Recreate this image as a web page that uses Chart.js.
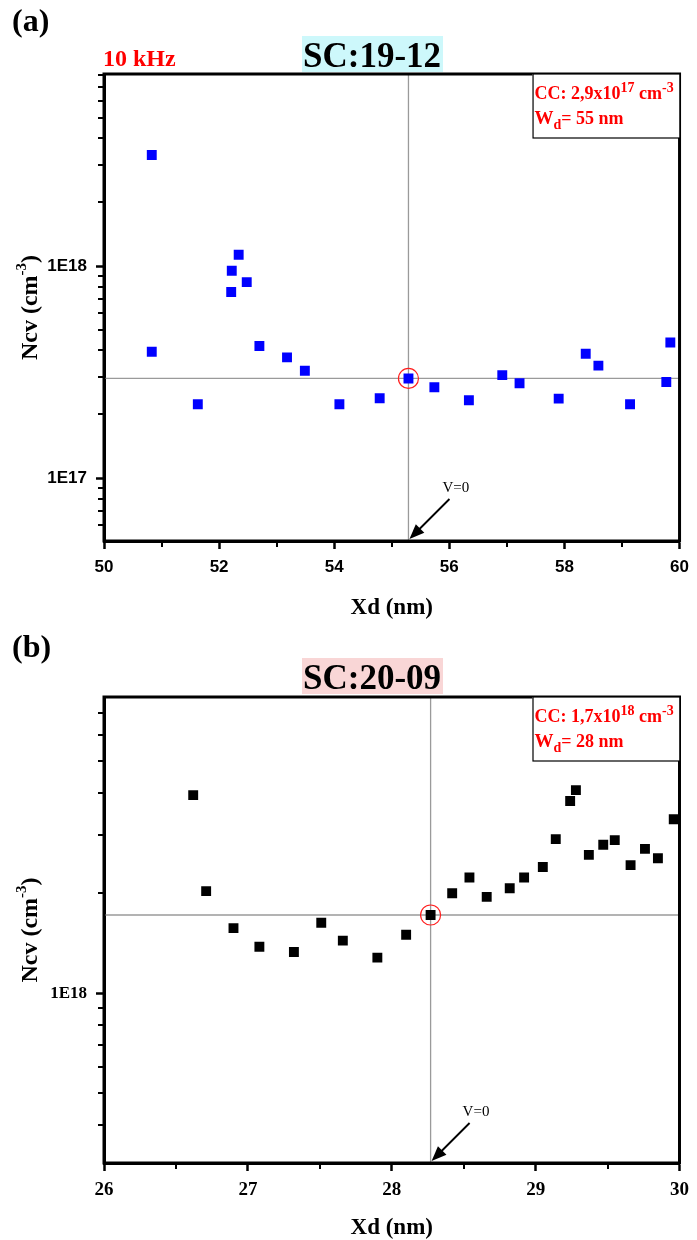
<!DOCTYPE html>
<html>
<head>
<meta charset="utf-8">
<title>Ncv vs Xd</title>
<script src="https://cdn.jsdelivr.net/npm/chart.js@4.4.1/dist/chart.umd.min.js"></script>
<style>
    html, body { margin: 0; padding: 0; background: #fff; }
    #wrap { position: relative; width: 697px; height: 1240px; }
    .panel { position: absolute; left: 0; width: 697px; height: 620px; }
    #panelA { top: 0; }
    #panelB { top: 620px; }
</style>
</head>
<body>
<div id="wrap">
    <div class="panel" id="panelA"><canvas id="chartA" width="697" height="620"></canvas></div>
    <div class="panel" id="panelB"><canvas id="chartB" width="697" height="620"></canvas></div>
</div>
<script>
// ---- panel (a) SC:19-12, 10 kHz ----
const xdA = [50.83, 50.83, 51.63, 52.21, 52.22, 52.34, 52.48, 52.70, 53.18, 53.49, 54.09, 54.79,
             55.29, 55.74, 56.34, 56.92, 57.22, 57.90, 58.37, 58.59, 59.14, 59.77, 59.84];
const ncvA = [3.34e18, 3.94e17, 2.23e17, 7.54e17, 9.5e17, 1.13e18, 8.4e17, 4.2e17, 3.71e17, 3.21e17, 2.23e17, 2.38e17,
              2.95e17, 2.68e17, 2.33e17, 3.06e17, 2.80e17, 2.37e17, 3.86e17, 3.39e17, 2.23e17, 2.84e17, 4.36e17];
const ccA = 2.95e17;          // horizontal marker (CC)
const wdA = 55.29;            // vertical marker (V=0)
const xRangeA = [50, 60];
const yRangeA = [5.05e16, 8.05e18];
const xMinorA = [51, 53, 55, 57, 59];
const yMajorA = [1e17, 1e18];
const yLabelsA = ['1E17', '1E18'];
const yMinorA = [6e16, 7e16, 8e16, 9e16, 2e17, 3e17, 4e17, 5e17, 6e17, 7e17, 8e17, 9e17,
                 2e18, 3e18, 4e18, 5e18, 6e18, 7e18, 8e18];

// ---- panel (b) SC:20-09 ----
const xdB = [26.62, 26.71, 26.90, 27.08, 27.32, 27.51, 27.66, 27.90, 28.10, 28.27, 28.42, 28.54, 28.66,
             28.82, 28.92, 29.05, 29.14, 29.24, 29.28, 29.37, 29.47, 29.55, 29.66, 29.76, 29.85, 29.96];
const ncvB = [3.95e18, 2.03e18, 1.57e18, 1.38e18, 1.33e18, 1.63e18, 1.44e18, 1.28e18, 1.50e18, 1.72e18, 2.0e18, 2.23e18, 1.95e18,
              2.07e18, 2.23e18, 2.40e18, 2.91e18, 3.79e18, 4.09e18, 2.61e18, 2.80e18, 2.89e18, 2.43e18, 2.72e18, 2.55e18, 3.34e18];
const ccB = 1.72e18;
const wdB = 28.27;
const xRangeB = [26, 30];
const yRangeB = [3.08e17, 7.8e18];
const xMinorB = [26.5, 27.5, 28.5, 29.5];
const yMajorB = [1e18];
const yLabelsB = ['1E18'];
const yMinorB = [4e17, 5e17, 6e17, 7e17, 8e17, 9e17, 2e18, 3e18, 4e18, 5e18, 6e18, 7e18];

const SERIF = '"Liberation Serif", "Times New Roman", serif';
const SANS = '"Liberation Sans", Arial, sans-serif';

// draw a row of text pieces (for super/subscripts), returns end x
function drawRuns(ctx, x, y, runs, weight) {
    runs.forEach(r => {
        ctx.font = (weight || 'bold') + ' ' + r.size + 'px ' + SERIF;
        ctx.fillText(r.t, x, y + (r.dy || 0));
        x += ctx.measureText(r.t).width;
    });
    return x;
}

function runsWidth(ctx, runs) {
    let w = 0;
    runs.forEach(r => {
        ctx.font = 'bold ' + r.size + 'px ' + SERIF;
        w += ctx.measureText(r.t).width;
    });
    return w;
}

// frame, minor ticks, titles, annotation box, V=0 arrow, axis titles
const decorPlugin = {
    id: 'decor',
    afterDraw(chart, args, o) {
        const ctx = chart.ctx;
        const a = chart.chartArea;
        const xs = chart.scales.x;
        const ys = chart.scales.y;
        ctx.save();

        // minor ticks
        ctx.strokeStyle = '#000';
        ctx.lineWidth = 2;
        ctx.beginPath();
        o.xMinor.forEach(v => {
            const px = Math.round(xs.getPixelForValue(v));
            ctx.moveTo(px, a.bottom);
            ctx.lineTo(px, a.bottom + 6);
        });
        o.yMinor.forEach(v => {
            const py = Math.round(ys.getPixelForValue(v));
            ctx.moveTo(a.left - 6, py);
            ctx.lineTo(a.left, py);
        });
        ctx.stroke();

        // frame
        ctx.lineWidth = 3;
        ctx.strokeRect(a.left, a.top, a.right - a.left, a.bottom - a.top);

        // panel letter
        ctx.fillStyle = '#000';
        ctx.textBaseline = 'alphabetic';
        ctx.textAlign = 'left';
        ctx.font = 'bold 32px ' + SERIF;
        ctx.fillText(o.letter, 12, o.letterY);

        // title with coloured background
        ctx.fillStyle = o.titleBg;
        ctx.fillRect(302, o.titleTop, 141, 36);
        ctx.fillStyle = '#000';
        ctx.font = 'bold 35px ' + SERIF;
        ctx.fillText(o.title, 303, o.titleTop + 31);

        if (o.freq) {
            ctx.fillStyle = '#ff0000';
            ctx.font = 'bold 24px ' + SERIF;
            ctx.fillText(o.freq, 103, 66);
        }

        // annotation box
        const bx = a.right - 147;
        const by = a.top;
        ctx.fillStyle = '#fff';
        ctx.fillRect(bx, by, 147, 64);
        ctx.strokeStyle = '#000';
        ctx.lineWidth = 1.2;
        ctx.strokeRect(bx + 0.5, by, 147, 64);
        ctx.fillStyle = '#ff0000';
        drawRuns(ctx, bx + 2, by + 25, [
            {t: 'CC: ' + o.ccText + 'x10', size: 18},
            {t: o.ccExp, size: 14, dy: -7},
            {t: ' cm', size: 18},
            {t: '-3', size: 14, dy: -7}
        ]);
        drawRuns(ctx, bx + 2, by + 50, [
            {t: 'W', size: 19},
            {t: 'd', size: 14, dy: 5},
            {t: '= ' + o.wdText + ' nm', size: 18}
        ]);

        // V=0 arrow at the bottom of the vertical marker
        const tipX = xs.getPixelForValue(o.wd) + 1;
        const tipY = a.bottom - 2;
        const tailX = tipX + o.arrow;
        const tailY = tipY - o.arrow;
        ctx.strokeStyle = '#000';
        ctx.lineWidth = 1.8;
        ctx.beginPath();
        ctx.moveTo(tailX, tailY);
        ctx.lineTo(tipX + 8, tipY - 8);
        ctx.stroke();
        const ang = Math.atan2(tipY - tailY, tipX - tailX);
        ctx.fillStyle = '#000';
        ctx.beginPath();
        ctx.moveTo(tipX, tipY);
        ctx.lineTo(tipX - 15 * Math.cos(ang) + 6 * Math.sin(ang), tipY - 15 * Math.sin(ang) - 6 * Math.cos(ang));
        ctx.lineTo(tipX - 15 * Math.cos(ang) - 6 * Math.sin(ang), tipY - 15 * Math.sin(ang) + 6 * Math.cos(ang));
        ctx.closePath();
        ctx.fill();
        ctx.font = '15px ' + SERIF;
        ctx.fillText('V=0', tipX + o.arrow - 7, tipY - o.arrow - 7);

        // x axis title
        ctx.fillStyle = '#000';
        ctx.font = 'bold 23px ' + SERIF;
        ctx.textAlign = 'center';
        ctx.fillText('Xd (nm)', (a.left + a.right) / 2, 614);
        ctx.textAlign = 'left';

        // y axis title (rotated)
        const yRuns = [
            {t: 'Ncv (cm', size: 24},
            {t: '-3', size: 15, dy: -11},
            {t: ')', size: 24}
        ];
        const w = runsWidth(ctx, yRuns);
        ctx.translate(37, (a.top + a.bottom) / 2);
        ctx.rotate(-Math.PI / 2);
        drawRuns(ctx, -w / 2, 0, yRuns);

        ctx.restore();
    }
};

function makeChart(canvasId, p) {
    const points = p.xd.map((x, i) => ({x: x, y: p.ncv[i]}));
    const tickFont = {family: p.tickFamily, size: p.tickSize, weight: 'bold'};

    return new Chart(document.getElementById(canvasId), {
        type: 'scatter',
        data: {
            datasets: [
                {
                    data: points,
                    pointStyle: 'rect',
                    radius: 7,
                    backgroundColor: p.color,
                    borderColor: p.color,
                    borderWidth: 0,
                    order: 1
                },
                {
                    data: [{x: p.wd, y: p.cc}],
                    pointStyle: 'circle',
                    radius: 10,
                    backgroundColor: 'rgba(0,0,0,0)',
                    borderColor: '#ff2020',
                    borderWidth: 1.2,
                    order: 0
                },
                {
                    data: [{x: p.xRange[0], y: p.cc}, {x: p.xRange[1], y: p.cc}],
                    showLine: true,
                    pointRadius: 0,
                    borderColor: '#9a9a9a',
                    borderWidth: 1.3,
                    order: 3
                },
                {
                    data: [{x: p.wd, y: p.yRange[0]}, {x: p.wd, y: p.yRange[1]}],
                    showLine: true,
                    pointRadius: 0,
                    borderColor: '#9a9a9a',
                    borderWidth: 1.3,
                    order: 3
                }
            ]
        },
        options: {
            responsive: false,
            animation: false,
            events: [],
            layout: {padding: {top: p.top, right: 13, left: 0, bottom: 0}},
            plugins: {
                legend: {display: false},
                tooltip: {enabled: false},
                decor: p.decor
            },
            scales: {
                x: {
                    type: 'linear',
                    min: p.xRange[0],
                    max: p.xRange[1],
                    ticks: {stepSize: p.xStep, font: p.xTickFont || tickFont, color: '#000', padding: 8, maxRotation: 0},
                    grid: {drawOnChartArea: false, tickLength: 8, tickWidth: 2.5, tickColor: '#000'},
                    border: {display: true, width: 3, color: '#000'},
                    afterFit: function(scale) { scale.height = 620 - p.bottom; }
                },
                y: {
                    type: 'logarithmic',
                    min: p.yRange[0],
                    max: p.yRange[1],
                    bounds: 'data',
                    afterBuildTicks: function(scale) {
                        scale.ticks = p.yMajor.map(v => ({value: v, major: true}));
                    },
                    ticks: {
                        font: tickFont,
                        color: '#000',
                        padding: 9,
                        callback: function(value, index) { return p.yLabels[index]; }
                    },
                    grid: {drawOnChartArea: false, tickLength: 8, tickWidth: 2.5, tickColor: '#000'},
                    border: {display: true, width: 3, color: '#000'},
                    afterFit: function(scale) { scale.width = 104; }
                }
            }
        },
        plugins: [decorPlugin]
    });
}

makeChart('chartA', {
    xd: xdA, ncv: ncvA, cc: ccA, wd: wdA,
    xRange: xRangeA, yRange: yRangeA, xStep: 2,
    yMajor: yMajorA, yLabels: yLabelsA,
    color: '#0000ff',
    top: 74, bottom: 541,
    tickFamily: SANS, tickSize: 17,
    decor: {
        letter: '(a)', letterY: 31,
        title: 'SC:19-12', titleTop: 36, titleBg: '#cdf8fb',
        freq: '10 kHz',
        ccText: '2,9', ccExp: '17', wdText: '55',
        wd: wdA, arrow: 40,
        xMinor: xMinorA, yMinor: yMinorA
    }
});

makeChart('chartB', {
    xd: xdB, ncv: ncvB, cc: ccB, wd: wdB,
    xRange: xRangeB, yRange: yRangeB, xStep: 1,
    yMajor: yMajorB, yLabels: yLabelsB,
    color: '#000000',
    top: 77, bottom: 543,
    tickFamily: SERIF, tickSize: 17,
    xTickFont: {family: SERIF, size: 19, weight: 'bold'},
    decor: {
        letter: '(b)', letterY: 37,
        title: 'SC:20-09', titleTop: 38, titleBg: '#f9d6d6',
        freq: null,
        ccText: '1,7', ccExp: '18', wdText: '28',
        wd: wdB, arrow: 38,
        xMinor: xMinorB, yMinor: yMinorB
    }
});
</script>
</body>
</html>
